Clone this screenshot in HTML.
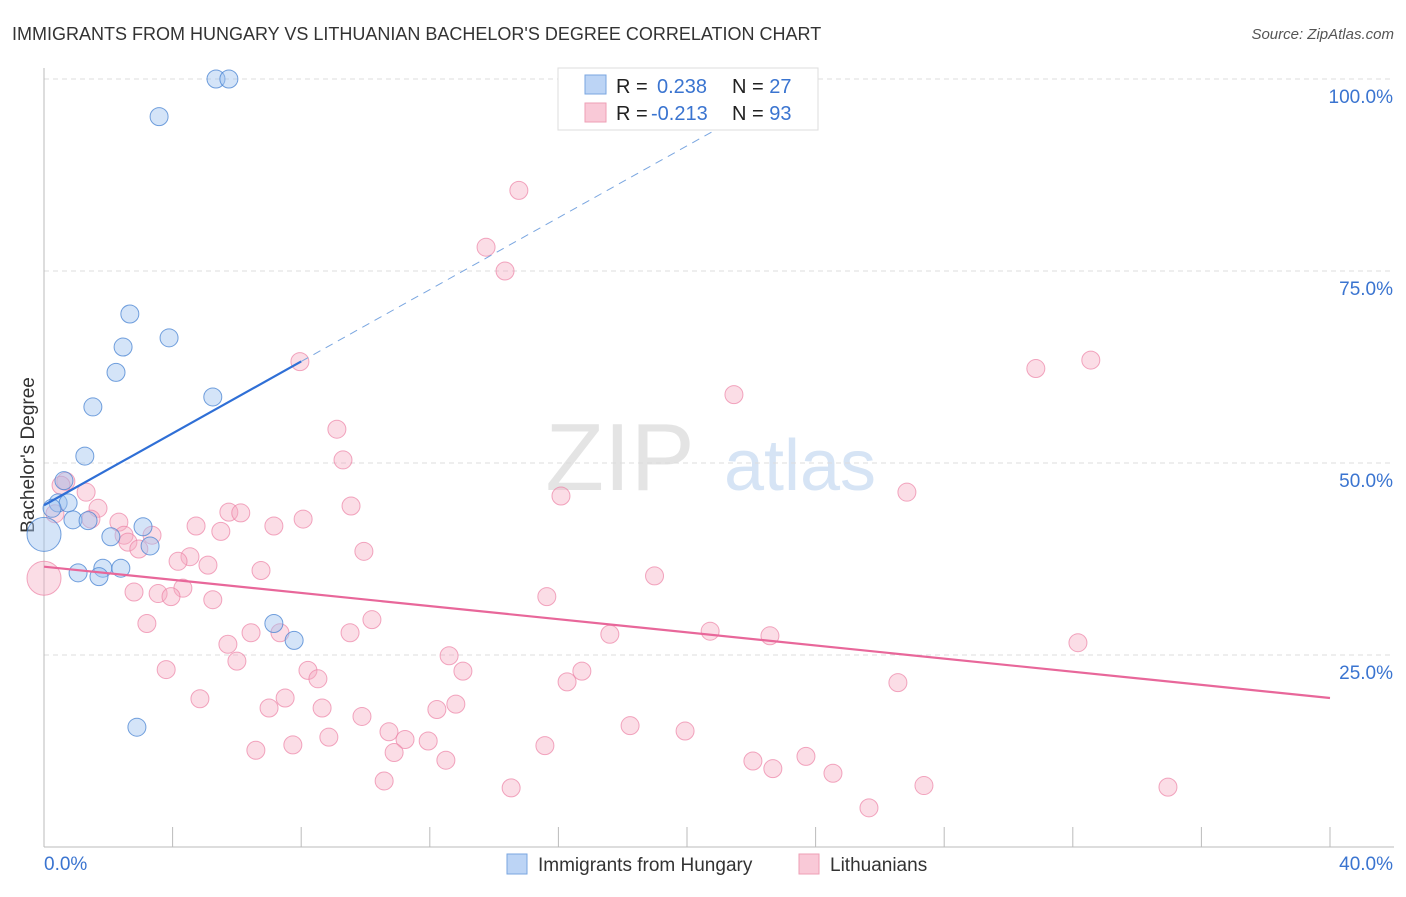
<!DOCTYPE html>
<html><head><meta charset="utf-8"><style>
body{margin:0;background:#fff;font-family:"Liberation Sans",sans-serif}
svg text{font-family:"Liberation Sans",sans-serif}
</style></head><body>
<svg id="c" width="1406" height="892" xmlns="http://www.w3.org/2000/svg">
<text x="12" y="40" font-size="18" fill="#333">IMMIGRANTS FROM HUNGARY VS LITHUANIAN BACHELOR'S DEGREE CORRELATION CHART</text>
<text x="1394" y="39" font-size="15" fill="#555" font-style="italic" text-anchor="end">Source: ZipAtlas.com</text>
<text x="620" y="490" font-size="96" fill="#e4e4e4" font-family="Liberation Serif" text-anchor="middle">ZIP</text>
<text x="800" y="490" font-size="72" fill="#d6e4f5" text-anchor="middle">atlas</text>
<text transform="translate(34,455) rotate(-90)" font-size="19" fill="#333" text-anchor="middle">Bachelor's Degree</text>
<g id="grid"></g><g id="pts"></g><g id="lines"></g>
<rect x="558" y="68" width="260" height="62" fill="#fff" stroke="#ddd"/>
<rect x="585" y="75" width="21" height="19" fill="#bcd4f5" stroke="#7aa6e0"/>
<rect x="585" y="103" width="21" height="19" fill="#f9c9d7" stroke="#ee9fb6"/>
<text x="616" y="93" font-size="20" fill="#222">R = <tspan fill="#3a74d0" x="657">0.238</tspan><tspan fill="#222" x="732">N = </tspan><tspan fill="#3a74d0">27</tspan></text>
<text x="616" y="120" font-size="20" fill="#222">R = <tspan fill="#3a74d0" x="651">-0.213</tspan><tspan fill="#222" x="732">N = </tspan><tspan fill="#3a74d0">93</tspan></text>
<rect x="507" y="854" width="20" height="20" fill="#bcd4f5" stroke="#7aa6e0"/>
<text x="538" y="871" font-size="19" fill="#333">Immigrants from Hungary</text>
<rect x="799" y="854" width="20" height="20" fill="#f9c9d7" stroke="#ee9fb6"/>
<text x="830" y="871" font-size="19" fill="#333">Lithuanians</text>
</svg>
<script>
const xTicks=[0,4,8,12,16,20,24,28,32,36,40];
const yTicks=[25,50,75,100];
const yTickLabels=["25.0%","50.0%","75.0%","100.0%"];
const hunX=[5.35,5.75,3.58,2.67,3.89,2.46,2.24,5.25,1.52,1.27,0.62,0.44,0.75,0.25,0.0,0.9,1.37,3.08,2.08,3.3,1.83,2.39,1.06,1.71,7.15,7.78,2.89];
const hunY=[100,100,95.1,69.4,66.3,65.1,61.8,58.6,57.3,50.9,47.7,44.8,44.8,44.1,40.7,42.6,42.5,41.7,40.4,39.2,36.3,36.3,35.7,35.2,29.1,26.9,15.6];
const hunS=[9,9,9,9,9,9,9,9,9,9,9,9,9,9,17,9,9,9,9,9,9,9,9,9,9,9,9];
const litX=[14.77,13.75,14.34,7.96,30.85,32.56,21.46,9.11,9.3,16.08,26.84,9.55,0.68,0.53,1.31,1.68,2.33,1.46,0.34,4.73,5.75,6.12,7.15,8.06,5.5,2.49,3.36,2.61,2.95,4.54,4.17,5.1,9.95,6.75,18.99,2.8,3.55,4.32,3.95,5.25,15.64,3.2,10.2,0,9.52,7.34,6.44,17.6,20.72,22.58,32.16,5.72,12.6,6,3.8,13.03,8.21,16.73,8.52,16.27,26.56,4.85,7.5,7,8.65,12.81,12.22,9.89,18.23,19.94,10.73,8.86,11.23,7.74,11.95,15.58,6.59,10.89,23.7,22.05,12.5,22.67,24.54,10.58,27.37,14.53,34.96,25.66];
const litY=[85.5,78.1,75,63.2,62.3,63.4,58.9,54.4,50.4,45.7,46.2,44.4,47.6,47.1,46.2,44.1,42.3,42.7,43.4,41.8,43.6,43.5,41.8,42.7,41.1,40.6,40.6,39.7,38.8,37.8,37.2,36.7,38.5,36,35.3,33.2,33,33.7,32.6,32.2,32.6,29.1,29.6,35,27.9,27.9,27.9,27.7,28.1,27.5,26.6,26.4,24.9,24.2,23.1,22.9,23,22.9,21.9,21.5,21.4,19.3,19.4,18.1,18.1,18.6,17.9,17,15.8,15.1,15,14.3,14,13.3,13.8,13.2,12.6,12.3,11.8,11.2,11.3,10.2,9.6,8.6,8,7.7,7.8,5.1];
const SVGNS="http://www.w3.org/2000/svg";
const X0=44,X1=1330,YT=79,YB=847;
const sx=v=>X0+(v/40)*(X1-X0);
const sy=v=>YB-(v/100)*(YB-YT);
function mk(t,a,p){const e=document.createElementNS(SVGNS,t);for(const k in a)e.setAttribute(k,a[k]);p.appendChild(e);return e;}
const grid=document.getElementById('grid'),pts=document.getElementById('pts'),lines=document.getElementById('lines');
yTicks.forEach((t,i)=>{
 const l=mk('line',{x1:X0,x2:1394,y1:sy(t),y2:sy(t),stroke:'#ddd','stroke-dasharray':'5,4'},grid);
 
 
 const tx=mk('text',{x:1393,y:sy(t)+24,'font-size':19,fill:'#3a74d0','text-anchor':'end'},grid);
 tx.textContent=yTickLabels[i];
 
 
});
const ax=mk('line',{x1:X0,x2:X0,y1:68,y2:YB,stroke:'#bbb'},grid);


const bx=mk('line',{x1:X0,x2:1394,y1:YB,y2:YB,stroke:'#bbb'},grid);


xTicks.forEach(t=>{
 const l=mk('line',{x1:sx(t),x2:sx(t),y1:YB,y2:YB-20,stroke:'#bbb'},grid);
 
 
});
const xl0=mk('text',{x:44,y:870,'font-size':19,fill:'#3a74d0'},grid);xl0.textContent='0.0%';


const xl1=mk('text',{x:1393,y:870,'font-size':19,fill:'#3a74d0','text-anchor':'end'},grid);xl1.textContent='40.0%';


litX.forEach((v,i)=>{
 const c=mk('circle',{cx:sx(v),cy:sy(litY[i]),r:i==43?17:9,fill:'rgba(246,170,193,0.4)',stroke:'rgba(236,130,165,0.7)','stroke-width':1},pts);
 
 
});
hunX.forEach((v,i)=>{
 const c=mk('circle',{cx:sx(v),cy:sy(hunY[i]),r:hunS[i],fill:'rgba(160,195,240,0.45)',stroke:'rgba(70,130,210,0.75)','stroke-width':1},pts);
 
 
});
const hb=44.5,hm=2.34,lb=36.5,lm=-0.4275;
const l1=mk('line',{x1:sx(0),y1:sy(hb),x2:sx(8),y2:sy(hb+hm*8),stroke:'#2f6fd6','stroke-width':2.2},lines);


const l1d=mk('line',{x1:sx(8),y1:sy(hb+hm*8),x2:sx(22),y2:sy(hb+hm*22),stroke:'#7aa6e0','stroke-width':1,'stroke-dasharray':'8,6'},lines);


const l2=mk('line',{x1:sx(0),y1:sy(lb),x2:sx(40),y2:sy(lb+lm*40),stroke:'#e8679a','stroke-width':2.2},lines);


</script>
</body></html>
